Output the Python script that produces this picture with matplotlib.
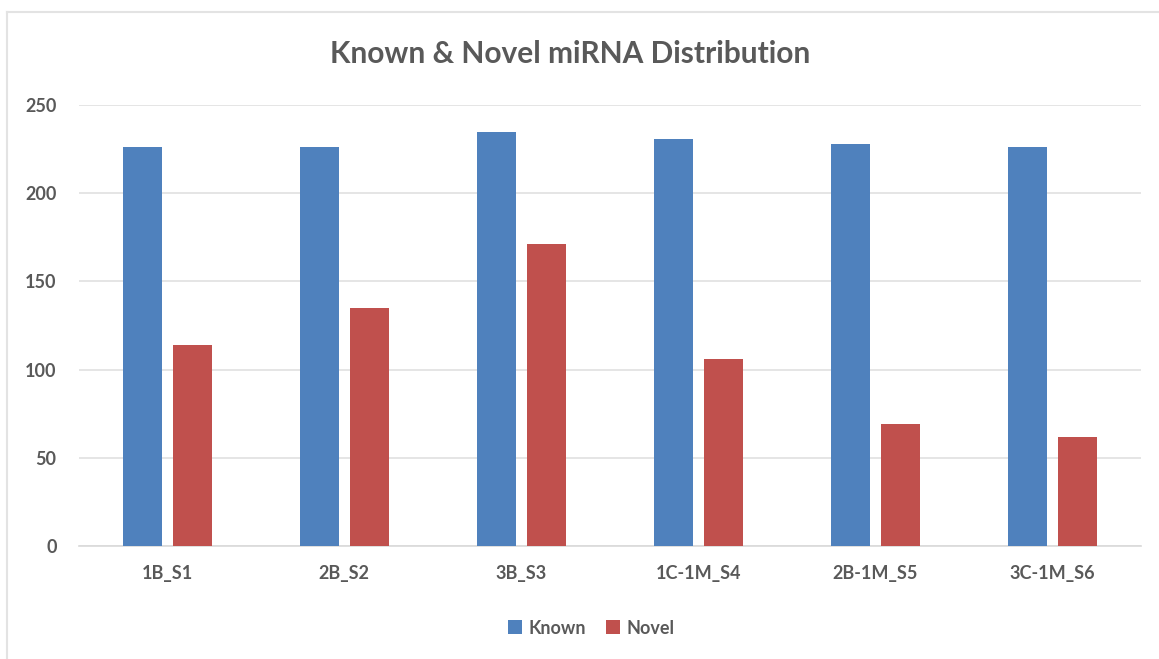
import numpy as np
import matplotlib
matplotlib.use("Agg")
import matplotlib.pyplot as plt
from matplotlib.lines import Line2D

plt.rcParams['font.family'] = ['Lato', 'DejaVu Sans']

samples = ["1B_S1", "2B_S2", "3B_S3", "1C-1M_S4", "2B-1M_S5", "3C-1M_S6"]
known = [226, 226, 235, 231, 228, 226]
novel = [114, 135, 171, 106, 69, 62]
yticks = [0, 50, 100, 150, 200, 250]

BLUE = "#4F81BD"
RED = "#C0504D"
TEXT = "#595959"
GRID = "#E0E0E0"

fig = plt.figure(figsize=(11.59, 6.59), dpi=100)
fig.patch.set_facecolor("white")

# faint chart-area frame (left and top edges)
fig.add_artist(Line2D([0.006, 0.006], [0.0, 0.982], transform=fig.transFigure,
                      color="#E3E3E3", linewidth=1.5))
fig.add_artist(Line2D([0.006, 1.0], [0.982, 0.982], transform=fig.transFigure,
                      color="#E3E3E3", linewidth=1.5))

ax = fig.add_axes([0.068, 0.1715, 0.9165, 0.669])
x = np.arange(len(samples))
w = 0.22
off = 0.14
ax.bar(x - off, known, width=w, color=BLUE, label="Known", zorder=3)
ax.bar(x + off, novel, width=w, color=RED, label="Novel", zorder=3)

ax.set_xlim(-0.5, len(samples) - 0.5)
ax.set_ylim(0, 250)
ax.set_yticks(yticks)
ax.set_xticks(x)
ax.set_xticklabels(samples)
ax.yaxis.grid(True, color=GRID, linewidth=1.2, zorder=0)
ax.set_axisbelow(True)
for s in ["top", "right", "left"]:
    ax.spines[s].set_visible(False)
ax.spines["bottom"].set_color("#D9D9D9")
ax.spines["bottom"].set_linewidth(1.2)
ax.tick_params(axis="both", length=0, labelsize=13, labelcolor=TEXT)
ax.tick_params(axis="y", pad=16)
ax.tick_params(axis="x", pad=14)
for lab in ax.get_xticklabels() + ax.get_yticklabels():
    lab.set_fontweight("bold")

fig.text(0.492, 0.918, "Known & Novel miRNA Distribution", ha="center", va="center",
         fontsize=21.5, fontweight="bold", color=TEXT)

leg = fig.legend(loc="center", bbox_to_anchor=(0.51, 0.047), ncol=2, frameon=False,
                 handlelength=0.8, handleheight=0.8, handletextpad=0.35,
                 columnspacing=1.1, prop={"size": 13, "weight": "bold"})
for t in leg.get_texts():
    t.set_color(TEXT)

fig.savefig("out.png", dpi=100, facecolor="white")
